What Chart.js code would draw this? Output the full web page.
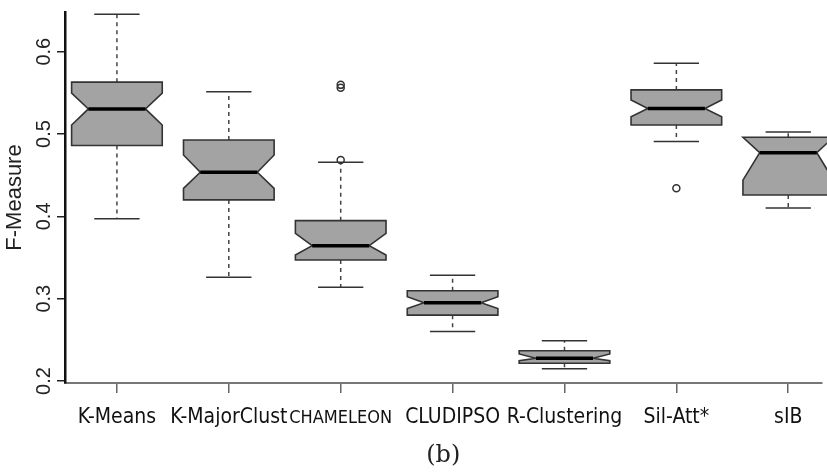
<!DOCTYPE html>
<html>
<head>
<meta charset="utf-8">
<script src="https://cdn.jsdelivr.net/npm/chart.js@4.4.1/dist/chart.umd.min.js"></script>
<style>
  html, body { margin: 0; padding: 0; background: #fff; }
  canvas { display: block; }
</style>
</head>
<body>
<canvas id="myChart" width="827" height="473"></canvas>
<script>
// values (F-Measure per method)
const categories  = ["K-Means", "K-MajorClust", "CHAMELEON", "CLUDIPSO", "R-Clustering", "Sil-Att*", "sIB"];
const whiskerLow  = [0.397, 0.326, 0.314, 0.260, 0.215, 0.491, 0.410];
const q1          = [0.486, 0.420, 0.347, 0.280, 0.2215, 0.511, 0.426];
const notchLow    = [0.511, 0.434, 0.353, 0.288, 0.2247, 0.521, 0.444];
const median      = [0.5305, 0.4536, 0.3644, 0.2951, 0.2276, 0.5309, 0.4774];
const notchHigh   = [0.5496, 0.4746, 0.3794, 0.3024, 0.2328, 0.5414, 0.4961];
const q3          = [0.563, 0.4928, 0.3948, 0.3097, 0.2368, 0.5536, 0.4961];
const whiskerHigh = [0.6456, 0.5515, 0.4657, 0.3284, 0.249, 0.586, 0.5026];
const outliers    = [[], [], [0.5597, 0.5561, 0.4685], [], [], [0.4341], []];

const yTicks      = [0.2, 0.3, 0.4, 0.5, 0.6];
const yTickLabels = ["0.2", "0.3", "0.4", "0.5", "0.6"];

// box geometry, in category units
const boxHalf = 0.405;
const notchInset = 0.37;
const capRatio = 0.5;

const boxPlugin = {
    id: 'boxes',
    beforeDatasetsDraw(chart) {
        const ctx = chart.ctx;
        const x = chart.scales.x;
        const y = chart.scales.y;

        for (let i = 0; i < categories.length; i++) {
            const L = x.getPixelForValue(i - boxHalf);
            const R = x.getPixelForValue(i + boxHalf);
            const C = x.getPixelForValue(i);
            const half = (R - L) / 2;
            const inset = half * notchInset;
            const cap = half * capRatio;

            const yWl = y.getPixelForValue(whiskerLow[i]);
            const yQ1 = y.getPixelForValue(q1[i]);
            const yNl = y.getPixelForValue(notchLow[i]);
            const yMd = y.getPixelForValue(median[i]);
            const yNh = y.getPixelForValue(notchHigh[i]);
            const yQ3 = y.getPixelForValue(q3[i]);
            const yWh = y.getPixelForValue(whiskerHigh[i]);

            ctx.save();

            // dashed whiskers
            ctx.strokeStyle = '#444';
            ctx.lineWidth = 1.5;
            ctx.setLineDash([4, 4]);
            ctx.beginPath();
            ctx.moveTo(C, yQ3); ctx.lineTo(C, yWh);
            ctx.moveTo(C, yQ1); ctx.lineTo(C, yWl);
            ctx.stroke();

            // staples
            ctx.setLineDash([]);
            ctx.strokeStyle = '#333';
            ctx.beginPath();
            ctx.moveTo(C - cap, yWh); ctx.lineTo(C + cap, yWh);
            ctx.moveTo(C - cap, yWl); ctx.lineTo(C + cap, yWl);
            ctx.stroke();

            // notched box
            ctx.beginPath();
            ctx.moveTo(L, yQ3);
            ctx.lineTo(R, yQ3);
            ctx.lineTo(R, yNh);
            ctx.lineTo(R - inset, yMd);
            ctx.lineTo(R, yNl);
            ctx.lineTo(R, yQ1);
            ctx.lineTo(L, yQ1);
            ctx.lineTo(L, yNl);
            ctx.lineTo(L + inset, yMd);
            ctx.lineTo(L, yNh);
            ctx.closePath();
            ctx.fillStyle = '#a3a3a3';
            ctx.fill();
            ctx.strokeStyle = '#333';
            ctx.lineWidth = 1.6;
            ctx.stroke();

            // median
            ctx.strokeStyle = '#000';
            ctx.lineWidth = 3.5;
            ctx.beginPath();
            ctx.moveTo(L + inset, yMd);
            ctx.lineTo(R - inset, yMd);
            ctx.stroke();

            ctx.restore();
        }
    },
    afterDraw(chart) {
        // rotated y tick labels, like R's default
        const ctx = chart.ctx;
        const y = chart.scales.y;
        ctx.save();
        ctx.fillStyle = '#222';
        ctx.font = '20px "Liberation Sans", Arial, sans-serif';
        ctx.textAlign = 'center';
        ctx.textBaseline = 'alphabetic';
        for (let i = 0; i < yTicks.length; i++) {
            const py = y.getPixelForValue(yTicks[i]);
            ctx.save();
            ctx.translate(50, py);
            ctx.rotate(-Math.PI / 2);
            ctx.fillText(yTickLabels[i], 0, 0);
            ctx.restore();
        }
        ctx.restore();
    }
};

const outlierPoints = [];
outliers.forEach((list, i) => {
    list.forEach(v => outlierPoints.push({ x: i, y: v }));
});

const labelFont = '"Liberation Sans Narrow", "DejaVu Sans Condensed", sans-serif';

const config = {
    type: 'scatter',
    data: {
        datasets: [{
            label: 'outliers',
            data: outlierPoints,
            pointStyle: 'circle',
            pointRadius: 3.5,
            pointBorderWidth: 1.5,
            borderColor: '#333',
            backgroundColor: 'rgba(255,255,255,0)'
        }]
    },
    options: {
        responsive: false,
        animation: false,
        devicePixelRatio: 1,
        layout: { padding: { top: 12, right: 0, bottom: 0, left: 0 } },
        plugins: {
            legend: { display: false },
            tooltip: { enabled: false }
        },
        scales: {
            x: {
                type: 'linear',
                position: 'bottom',
                min: -0.4641,
                max: 6.2972,
                afterBuildTicks: (s) => { s.ticks = categories.map((c, i) => ({ value: i })); },
                afterFit: (s) => { s.height = 90; },
                ticks: {
                    autoSkip: false,
                    maxRotation: 0,
                    padding: 12,
                    color: '#111',
                    // the small-caps looking label is set smaller; taller line keeps baselines level
                    font: (c) => c.index === 2
                        ? { family: labelFont, size: 18, lineHeight: 1.52 }
                        : { family: labelFont, size: 21, lineHeight: 1.2 },
                    callback: (v) => categories[v]
                },
                grid: { drawOnChartArea: false, tickLength: 10, color: '#666', lineWidth: 1.5 },
                border: { display: true, color: '#777', width: 2 },
                title: {
                    display: true,
                    text: '(b)',
                    color: '#222',
                    font: { family: '"DejaVu Serif", serif', size: 24 },
                    padding: { top: 0, bottom: 3 }
                }
            },
            y: {
                min: 0.19757,
                max: 0.64822,
                afterBuildTicks: (s) => { s.ticks = yTicks.map(v => ({ value: v })); },
                afterFit: (s) => { s.width = 65; },
                ticks: { display: false },
                grid: { drawOnChartArea: false, tickLength: 8, color: '#222', lineWidth: 1.5 },
                border: { display: true, color: '#111', width: 2.5 },
                title: {
                    display: true,
                    text: 'F-Measure',
                    color: '#222',
                    font: { family: '"Liberation Sans", Arial, sans-serif', size: 22 },
                    padding: { top: 2, bottom: 0 }
                }
            }
        }
    },
    plugins: [boxPlugin]
};

const myChart = new Chart(document.getElementById('myChart'), config);
</script>
</body>
</html>
